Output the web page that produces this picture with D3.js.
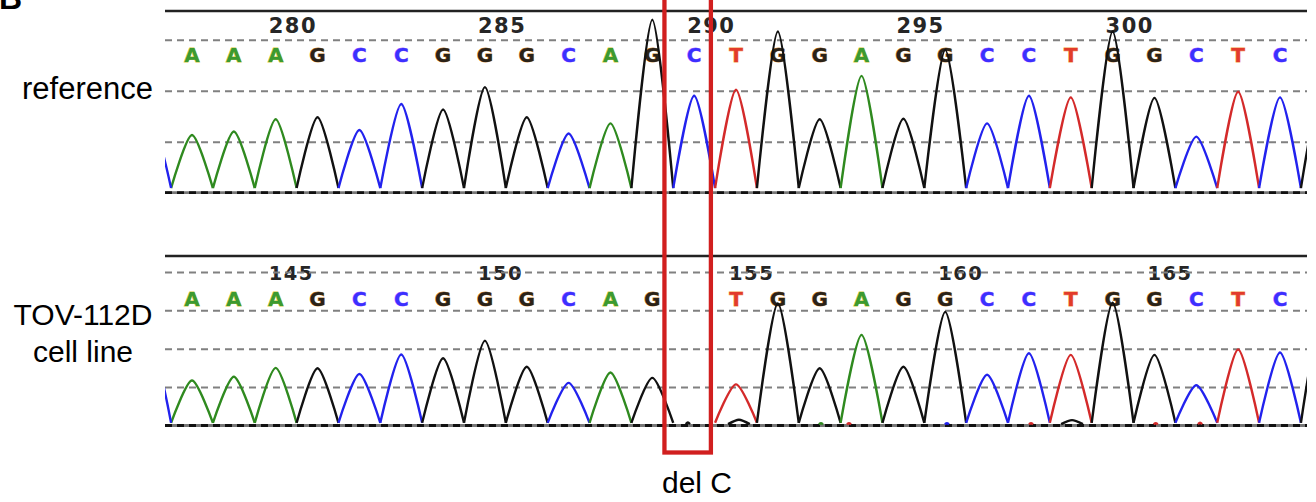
<!DOCTYPE html>
<html>
<head>
<meta charset="utf-8">
<script src="https://cdn.jsdelivr.net/npm/d3@7/dist/d3.min.js"></script>
<style>
  html, body { margin: 0; padding: 0; background: #fff; }
  svg { display: block; }
  .lbl { font-family: "Liberation Sans", Arial, sans-serif; fill: #000; }
  .pos { font-family: "DejaVu Sans", sans-serif; font-weight: bold; fill: #262626; letter-spacing: 1.5px; }
  .base { font-family: "DejaVu Sans", sans-serif; font-weight: bold; font-size: 20px; text-anchor: middle; }
</style>
</head>
<body>
<svg id="chart" width="1316" height="502"></svg>
<script>
// ─── Data ────────────────────────────────────────────────────────────────────
// Base calls, one per peak index (0..26); null = deleted base
const refBases   = ['A','A','A','G','C','C','G','G','G','C','A','G','C','T','G','G','A','G','G','C','C','T','G','G','C','T','C'];
const cellBases  = ['A','A','A','G','C','C','G','G','G','C','A','G',null,'T','G','G','A','G','G','C','C','T','G','G','C','T','C'];
// Peak heights in grid units (1 unit = spacing between dashed lines)
const refHeights  = [1.13,1.20,1.44,1.48,1.23,1.74,1.63,2.07,1.48,1.16,1.36,3.39,1.90,2.02,3.16,1.44,2.29,1.45,2.80,1.36,1.90,1.87,3.16,1.86,1.10,1.98,1.87];
const cellHeights = [1.17,1.27,1.50,1.49,1.34,1.85,1.75,2.21,1.53,1.11,1.38,1.24,null,1.07,3.18,1.49,2.36,1.53,2.96,1.32,1.88,1.84,3.20,1.84,1.05,1.98,1.90];
// Peaks cut off by the panel edges: [base, index, height]
const refEdge  = [['C', -1, 1.5], ['G', 27, 2.0]];
const cellEdge = [['C', -1, 2.2], ['G', 27, 2.8]];
// Small baseline noise in the cell line trace: [index, base, height]
const cellNoise = [[11.85,'G',0.08],[13.07,'G',0.15],[15.03,'A',0.06],[15.70,'T',0.06],[18.04,'C',0.06],
                   [20.05,'T',0.06],[21.03,'G',0.14],[23.03,'T',0.06],[24.09,'T',0.07]];
// Trough level between peaks
const refTrough = 0.09, cellTrough = 0.07;
// Position numbering
const refTicks    = [280, 285, 290, 295, 300];
const refTickIdx  = [2, 7, 12, 17, 22];
const cellTicks   = [145, 150, 155, 160, 165];
const cellTickIdx = [2, 7, 13, 18, 23];
// Deletion annotation (index span of the box)
const delSpan  = [11.29, 12.4];
const delLabel = 'del C';

// ─── Layout ─────────────────────────────────────────────────────────────────
const svg = d3.select('#chart');
const PX0 = 165, PX1 = 1307;
const x = d3.scaleLinear().domain([0, 26]).range([192, 1280]);

const TRACE  = { A: '#2f8a1f', C: '#2222ee', G: '#111111', T: '#d42a2a' };
const LETTER = { A: '#3c9a30', C: '#3b30ff', G: '#2a2218', T: '#e23b2b' };
const FRINGE = { A: '#d6c83c', C: '#b070ff', G: '#c8842e', T: '#f29a48' };

svg.append('defs').append('clipPath').attr('id', 'clipTrace')
  .append('rect').attr('x', PX0).attr('y', -20).attr('width', PX1 - PX0).attr('height', 540);

const panels = [
  { bases: refBases, heights: refHeights, edge: refEdge, noise: [], trough: refTrough,
    ticks: refTicks, tickIdx: refTickIdx,
    top: 11, base: 192.7, unit: 51, grid: 3, numY: 32.7, numSize: 21, letterY: 61.5 },
  { bases: cellBases, heights: cellHeights, edge: cellEdge, noise: cellNoise, trough: cellTrough,
    ticks: cellTicks, tickIdx: cellTickIdx,
    top: 256, base: 425.5, unit: 38.4, grid: 4, numY: 280, numSize: 19.5, letterY: 306 }
];

const line = d3.line()
  .x(d => x(d[0]))
  .curve(d3.curveCardinal.tension(0.2));

panels.forEach(p => {
  const y = d3.scaleLinear().domain([0, p.grid]).range([p.base, p.base - p.grid * p.unit]);
  line.y(d => y(d[1]));
  const g = svg.append('g');

  // Position numbers (the dashed line strikes through them)
  g.selectAll('text.pos').data(p.ticks).join('text')
    .attr('class', 'pos')
    .attr('x', (d, i) => x(p.tickIdx[i]) - 7)
    .attr('y', p.numY)
    .attr('font-size', p.numSize)
    .text(d => d);

  // Dashed grid lines from the y scale
  const grid = g.append('g')
    .attr('transform', `translate(${PX0},0)`)
    .call(d3.axisLeft(y).tickValues(d3.range(1, p.grid + 1)).tickSize(-(PX1 - PX0)).tickFormat(''));
  grid.select('.domain').remove();
  grid.selectAll('line').attr('stroke', '#808080').attr('stroke-width', 2).attr('stroke-dasharray', '7 5');

  // Top solid rule and baseline double rule
  g.append('line').attr('x1', PX0).attr('x2', PX1).attr('y1', p.top).attr('y2', p.top)
    .attr('stroke', '#222').attr('stroke-width', 2.6);
  g.append('line').attr('x1', PX0).attr('x2', PX1).attr('y1', y(0)).attr('y2', y(0))
    .attr('stroke', '#777').attr('stroke-width', 2.8);
  g.append('line').attr('x1', PX0).attr('x2', PX1).attr('y1', y(0)).attr('y2', y(0))
    .attr('stroke', '#111').attr('stroke-width', 2.8).attr('stroke-dasharray', '7 5');

  // Base letters
  const calls = p.bases.map((b, i) => ({ b, i })).filter(d => d.b);
  g.selectAll('text.base').data(calls).join('text')
    .attr('class', 'base')
    .attr('x', d => x(d.i))
    .attr('y', p.letterY)
    .attr('fill', d => LETTER[d.b])
    .attr('stroke', d => FRINGE[d.b])
    .attr('stroke-width', 0.8)
    .attr('paint-order', 'stroke')
    .text(d => d.b);

  // Trace peaks
  const peaks = calls.map(d => ({ b: d.b, i: d.i, h: p.heights[d.i], w: 0.5 }))
    .concat(p.edge.map(e => ({ b: e[0], i: e[1], h: e[2], w: 0.5 })))
    .concat(p.noise.map(n => ({ b: n[1], i: n[0], h: n[2], w: n[2] >= 0.1 ? 0.26 : 0.05 })));
  const tr = g.append('g').attr('clip-path', 'url(#clipTrace)');
  tr.selectAll('path').data(peaks).join('path')
    .attr('fill', 'none')
    .attr('stroke', d => TRACE[d.b])
    .attr('stroke-width', 2.4)
    .attr('stroke-linejoin', 'round')
    .attr('d', d => {
      const t = d.w < 0.5 ? p.trough * 0.5 : p.trough;
      return line([[d.i - d.w, t], [d.i, d.h], [d.i + d.w, t]]);
    });
});

// Row labels
svg.append('text').attr('class', 'lbl').attr('x', 153).attr('y', 99)
  .attr('font-size', 31).attr('text-anchor', 'end').text('reference');
svg.append('text').attr('class', 'lbl').attr('x', 83).attr('y', 325)
  .attr('font-size', 30).attr('text-anchor', 'middle').text('TOV-112D');
svg.append('text').attr('class', 'lbl').attr('x', 83).attr('y', 362)
  .attr('font-size', 30).attr('text-anchor', 'middle').text('cell line');

// Panel letter, cut off at the top edge as in the figure
svg.append('text').attr('class', 'lbl').attr('x', -1).attr('y', 9)
  .attr('font-size', 32).attr('font-weight', 'bold').text('B');

// Deletion box and label
svg.append('rect')
  .attr('x', x(delSpan[0])).attr('y', -10)
  .attr('width', x(delSpan[1]) - x(delSpan[0])).attr('height', 462.5)
  .attr('fill', 'none').attr('stroke', '#d11f1f').attr('stroke-width', 4.3);
svg.append('text').attr('class', 'lbl').attr('x', 697).attr('y', 493)
  .attr('font-size', 30).attr('text-anchor', 'middle').text(delLabel);
</script>
</body>
</html>
